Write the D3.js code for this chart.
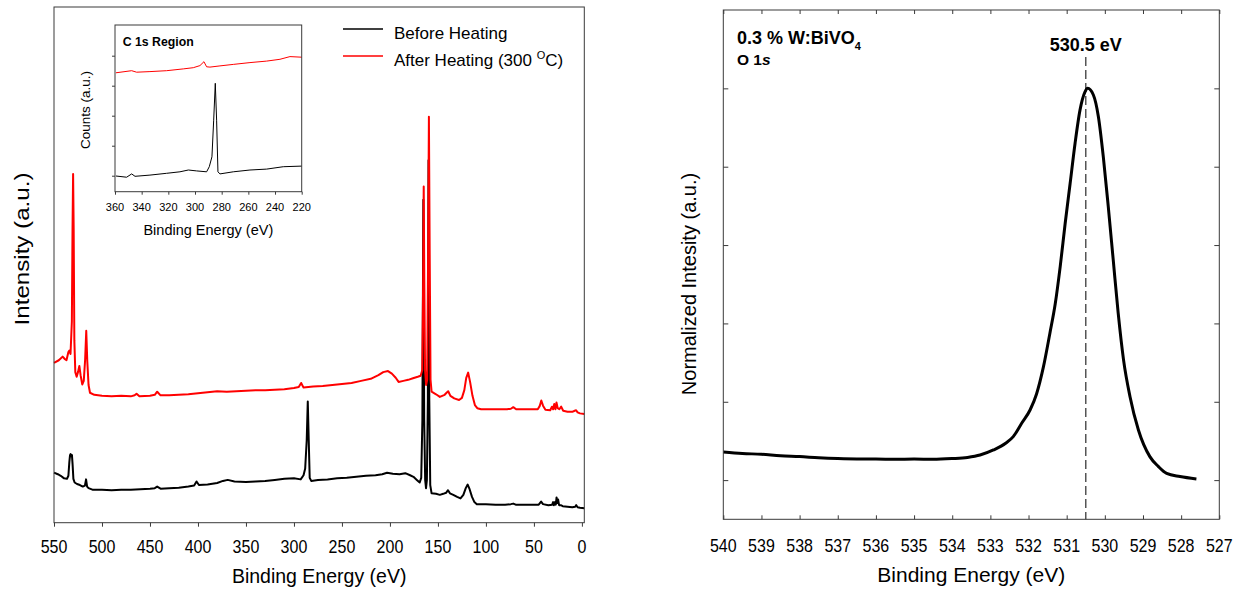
<!DOCTYPE html>
<html>
<head>
<meta charset="utf-8">
<script src="https://cdn.jsdelivr.net/npm/d3@7"></script>
<style>
  body { margin: 0; background: #fff; }
  svg { display: block; }
  text { font-family: "Liberation Sans", Arial, sans-serif; fill: #000; }
</style>
</head>
<body>
<svg id="chart" width="1242" height="591"></svg>
<script>
// ---------- data ----------
// XPS survey, before heating: [binding energy (eV), intensity (a.u.)]
const surveyBefore = [
  [550,9.7],[546,9.4],[543,9.1],[539.5,8.6],[536.5,8.5],[535,9.1],[534,11.8],[533.3,13.1],[532.7,13.3],
  [532,12.9],[531.3,13.1],[530.6,11.2],[529.8,8.5],[528.5,7.8],[526,7.5],[523,7.3],[520,7.0],[517.8,7.2],
  [516.6,8.4],[515.5,7.0],[514,6.7],[510,6.4],[500,6.4],[490,6.3],[480,6.4],[470,6.4],[460,6.5],[450,6.6],
  [445,6.7],[442.5,7.0],[439,6.6],[430,6.7],[420,6.8],[410,7.0],[404,7.2],[401.5,8.0],[399,7.3],[390,7.4],
  [380,7.7],[374,8.1],[369,8.3],[362,8.0],[350,7.9],[340,8.0],[330,8.1],[320,8.3],[310,8.5],[300,8.6],
  [293,8.4],[290,9.2],[288.3,10.5],[286.7,16.0],[285.6,23.5],[284.6,16.0],[283.6,8.7],[282,8.1],[275,8.3],
  [265,8.4],[255,8.6],[245,8.7],[235,8.9],[225,9.1],[215,9.2],[208,9.4],[203,9.7],[197,9.5],[190,9.4],
  [184,9.6],[179,9.2],[175.5,8.9],[172,8.3],[169,7.8],[167.4,8.7],[166.2,19.9],[165.2,62.6],[164.3,19.9],
  [163.3,8.3],[162.4,6.7],[161.5,8.3],[160.5,23.8],[159.8,70.3],[159,23.8],[158,7.3],[156.6,5.7],[152,5.6],
  [148,5.4],[144.5,5.6],[141.5,5.8],[139.5,6.3],[137.5,5.7],[134,5.4],[130,5.0],[126.5,4.7],[123.5,5.4],
  [121,6.7],[119,7.4],[117,6.5],[114.5,5.0],[112,4.0],[109.5,3.6],[100,3.6],[90,3.5],[80,3.5],[74,3.6],
  [71.5,3.7],[69,3.5],[60,3.5],[50,3.5],[45,3.5],[42.5,4.1],[40.5,3.6],[35,3.4],[31,3.5],[30,4.0],
  [29.2,3.4],[28,4.0],[27.2,3.5],[26.4,4.9],[25.6,3.8],[24.8,4.5],[23.8,3.4],[22,3.4],[20,3.2],[15,3.1],
  [10,3.0],[7,3.1],[6,3.4],[4.5,3.0],[2,2.9],[-2.5,2.8]
];

// XPS survey, after heating at 300 °C
const surveyAfter = [
  [550,31.0],[545,31.5],[541,32.2],[538.5,31.7],[537,31.5],[535,33.1],[534,33.4],[532.8,32.7],[531.4,39.0],
  [530.7,56.8],[530.1,67.6],[529.5,56.8],[528.8,35.4],[527.8,29.2],[526.4,28.3],[525,29.2],[523.6,30.4],
  [522.3,28.6],[520.5,26.8],[519,27.5],[517.6,31.5],[516.4,37.2],[515.3,31.2],[514,26.7],[512.5,25.2],
  [508,24.8],[500,24.6],[490,24.5],[480,24.6],[470,24.5],[466,24.7],[464,25.0],[461,24.5],[450,24.6],
  [445,24.8],[442.5,25.4],[439,24.7],[430,24.7],[420,24.8],[410,24.9],[400,25.1],[390,25.3],[380,25.5],
  [370,25.4],[360,25.5],[350,25.6],[340,25.7],[330,25.7],[320,25.8],[310,25.9],[300,26.1],[295,26.3],
  [292.5,27.1],[290,26.2],[285,26.3],[280,26.4],[270,26.5],[260,26.7],[250,26.9],[240,27.1],[230,27.5],
  [220,27.9],[212,28.6],[207,29.2],[202,29.4],[198,28.9],[194,28.1],[191,27.3],[186,27.5],[181,27.7],
  [176,28.0],[171,28.3],[168,28.5],[166.3,29.6],[165.4,47.0],[164.8,65.2],[164.2,47.0],[163.4,29.6],
  [162.3,26.7],[161.2,27.7],[160.2,52.8],[159.4,78.7],[158.6,52.8],[157.7,27.7],[156.6,25.4],[152,24.9],
  [148,24.4],[143,24.8],[141,25.2],[139.3,25.5],[137,24.6],[133,24.1],[128,23.8],[125,24.2],[122.5,25.7],
  [120.5,28.1],[118.5,29.1],[116.5,27.3],[114,24.6],[111.5,22.8],[109,22.2],[105,22.0],[95,22.0],[85,22.0],
  [78,22.0],[74,22.1],[71.5,22.4],[68.5,22.0],[60,22.0],[50,22.0],[46,22.0],[44,22.6],[42.3,23.7],
  [40.5,22.7],[38,21.9],[33,21.8],[31.2,22.5],[30,22.0],[28.8,23.0],[27.6,22.0],[26.5,23.3],[25.2,22.2],
  [23.5,22.0],[21.6,22.5],[19.5,21.7],[15,21.5],[10,21.5],[7.5,21.7],[6,21.8],[4.5,21.4],[2,21.2],[-2.5,21.1]
];

// C 1s region (inset): counts (a.u.)
const c1sBefore = [
  [359.3,-0.01],[351.3,-0.05],[347.5,0.06],[345,-0.02],[333.8,0.02],[321.3,0.08],[311.3,0.13],[305,0.19],
  [298.8,0.16],[291.3,0.13],[289.3,0.30],[287.3,0.63],[286,1.85],[284.8,3.08],[283.8,1.85],[282.8,0.13],
  [281.3,0.06],[271.3,0.13],[258.8,0.19],[246.3,0.22],[233.8,0.30],[220,0.32]
];
const c1sAfter = [
  [359.3,3.43],[347.5,3.50],[343.8,3.45],[333.8,3.47],[321.3,3.50],[308.8,3.56],[301.3,3.60],[296.3,3.67],
  [293.3,3.80],[291.3,3.63],[288.8,3.62],[281.3,3.66],[271.3,3.71],[258.8,3.77],[246.3,3.82],[236.3,3.88],
  [228.8,3.97],[220,3.95]
];

// O 1s high-resolution spectrum, normalized intensity
const o1sSpectrum = [
  [540,0.072],[539.5,0.068],[539,0.066],[538.5,0.062],[538,0.060],[537.5,0.057],[537,0.055],[536.5,0.054],
  [536,0.054],[535.5,0.053],[535,0.054],[534.5,0.053],[534,0.055],[533.6,0.058],[533.27,0.064],[532.92,0.077],
  [532.6,0.094],[532.4,0.111],[532.18,0.145],[531.96,0.179],[531.79,0.22],[531.61,0.289],[531.44,0.375],
  [531.3,0.45],[531.17,0.545],[531.04,0.655],[530.91,0.757],[530.78,0.86],[530.65,0.945],[530.52,0.991],
  [530.45,1.0],[530.3,0.983],[530.17,0.928],[530.04,0.825],[529.91,0.698],[529.78,0.562],[529.65,0.426],
  [529.51,0.307],[529.34,0.213],[529.12,0.128],[528.82,0.06],[528.6,0.035],[528.38,0.017],[528.03,0.009],
  [527.6,0.003]
];
const o1sPeak = 530.5;

const surveyTicks = [550,500,450,400,350,300,250,200,150,100,50,0];
const insetTicks = [360,340,320,300,280,260,240,220];
const insetYTicks = [0,1,2,3,4];
const o1sTicks = [540,539,538,537,536,535,534,533,532,531,530,529,528,527];
const o1sYTicks = [0,0.2,0.4,0.6,0.8,1.0];

const seriesNames = ["Before Heating", "After Heating (300 "];
const seriesColors = ["#000000", "#ff0000"];

// ---------- drawing ----------
const svg = d3.select("#chart");
const FRAME = "#3a3a3a";

function frame(g, x, y) {
  const [x0, x1] = x.range(), [y0, y1] = y.range();
  g.append("rect")
    .attr("x", Math.min(x0, x1)).attr("y", Math.min(y0, y1))
    .attr("width", Math.abs(x1 - x0)).attr("height", Math.abs(y1 - y0))
    .attr("fill", "none").attr("stroke", FRAME).attr("stroke-width", 1);
}
function styleAxis(sel) {
  sel.select(".domain").remove();
  sel.selectAll(".tick line").attr("stroke", FRAME).attr("stroke-width", 1);
}
function tickLabels(g, scale, values, baseline, size, stretch) {
  g.selectAll(null).data(values).enter().append("text")
    .attr("transform", d => `translate(${scale(d)},${baseline}) scale(1,${stretch})`)
    .attr("text-anchor", "middle").attr("font-size", size)
    .text(d => d);
}

// ----- survey panel -----
const sx = d3.scaleLinear().domain([550, -2.5]).range([54, 584.3]);
const sy = d3.scaleLinear().domain([0, 100]).range([522.7, 7]);
const survey = svg.append("g");

survey.append("g").attr("transform", `translate(0,${sy.range()[0]})`)
  .call(d3.axisBottom(sx).tickValues(surveyTicks).tickSize(4).tickFormat(""))
  .call(styleAxis);
tickLabels(survey, sx, surveyTicks, 553, 16, 1.15);

const sLine = d3.line().x(d => sx(d[0])).y(d => sy(d[1]));
[surveyBefore, surveyAfter].forEach((s, i) => {
  survey.append("path").datum(s).attr("d", sLine)
    .attr("fill", "none").attr("stroke", seriesColors[i])
    .attr("stroke-width", 2).attr("stroke-linejoin", "round");
});
frame(survey, sx, sy);

survey.append("text").attr("x", d3.mean(sx.range())).attr("y", 583)
  .attr("text-anchor", "middle").attr("font-size", 19.5).text("Binding Energy (eV)");
survey.append("text").attr("transform", "translate(29,249) rotate(-90) scale(1.15,1)")
  .attr("text-anchor", "middle").attr("font-size", 21).text("Intensity (a.u.)");

// legend
const legend = survey.append("g");
seriesNames.forEach((name, i) => {
  const ly = 29 + i * 27;
  legend.append("line").attr("x1", 343).attr("x2", 383).attr("y1", ly).attr("y2", ly)
    .attr("stroke", seriesColors[i]).attr("stroke-width", 1.5);
  const t = legend.append("text").attr("x", 394).attr("y", ly + 10).attr("font-size", 17).text(name);
  if (i === 1) {
    t.append("tspan").attr("font-size", 11).attr("dy", -7).text("O");
    t.append("tspan").attr("dy", 7).text("C)");
  }
});

// ----- C 1s inset -----
const ix = d3.scaleLinear().domain([360, 220]).range([115, 301.7]);
const iy = d3.scaleLinear().domain([-0.533, 5.023]).range([191.7, 25]);
const inset = svg.append("g");
inset.append("rect").attr("x", 115).attr("y", 25).attr("width", 186.7).attr("height", 166.7).attr("fill", "#fff");
inset.append("g").attr("transform", `translate(0,${iy.range()[0]})`)
  .call(d3.axisBottom(ix).tickValues(insetTicks).tickSize(3).tickFormat(""))
  .call(styleAxis);
inset.append("g").attr("transform", `translate(${ix.range()[0]},0)`)
  .call(d3.axisLeft(iy).tickValues(insetYTicks).tickSize(3).tickFormat(""))
  .call(styleAxis);
tickLabels(inset, ix, insetTicks, 210.5, 11, 1);

const iLine = d3.line().x(d => ix(d[0])).y(d => iy(d[1]));
[c1sBefore, c1sAfter].forEach((s, i) => {
  inset.append("path").datum(s).attr("d", iLine)
    .attr("fill", "none").attr("stroke", seriesColors[i]).attr("stroke-width", 1);
});
frame(inset, ix, iy);

inset.append("text").attr("x", 122.7).attr("y", 46).attr("font-size", 12.3).attr("font-weight", "bold")
  .text("C 1s Region");
inset.append("text").attr("x", d3.mean(ix.range())).attr("y", 235)
  .attr("text-anchor", "middle").attr("font-size", 14.5).text("Binding Energy (eV)");
inset.append("text").attr("transform", "translate(90,110) rotate(-90)")
  .attr("text-anchor", "middle").attr("font-size", 13.5).text("Counts (a.u.)");

// ----- O 1s panel -----
const ox = d3.scaleLinear().domain([540, 527]).range([723.3, 1219.3]);
const oy = d3.scaleLinear().domain([-0.1, 1.2]).range([519.3, 10]);
const o1s = svg.append("g");

o1s.append("g").attr("transform", `translate(0,${oy.range()[0]})`)
  .call(d3.axisBottom(ox).tickValues(o1sTicks).tickSize(-4).tickFormat("")).call(styleAxis);
o1s.append("g").attr("transform", `translate(0,${oy.range()[1]})`)
  .call(d3.axisTop(ox).tickValues(o1sTicks).tickSize(-4).tickFormat("")).call(styleAxis);
o1s.append("g").attr("transform", `translate(${ox.range()[0]},0)`)
  .call(d3.axisLeft(oy).tickValues(o1sYTicks).tickSize(-5).tickFormat("")).call(styleAxis);
o1s.append("g").attr("transform", `translate(${ox.range()[1]},0)`)
  .call(d3.axisRight(oy).tickValues(o1sYTicks).tickSize(-5).tickFormat("")).call(styleAxis);
tickLabels(o1s, ox, o1sTicks, 552, 16, 1.15);

o1s.append("line").attr("x1", ox(o1sPeak)).attr("x2", ox(o1sPeak))
  .attr("y1", 57).attr("y2", oy.range()[0])
  .attr("stroke", "#555").attr("stroke-width", 1.5).attr("stroke-dasharray", "9,4");

const oLine = d3.line().x(d => ox(d[0])).y(d => oy(d[1])).curve(d3.curveMonotoneX);
o1s.append("path").datum(o1sSpectrum).attr("d", oLine)
  .attr("fill", "none").attr("stroke", "#000").attr("stroke-width", 3).attr("stroke-linejoin", "round");
frame(o1s, ox, oy);

o1s.append("text").attr("x", ox(o1sPeak)).attr("y", 51).attr("text-anchor", "middle")
  .attr("font-size", 18).attr("font-weight", "bold").text(`${o1sPeak.toFixed(1)} eV`);

const title = o1s.append("text").attr("x", 737).attr("y", 44.3).attr("font-size", 18).attr("font-weight", "bold");
title.append("tspan").text("0.3 % W:BiVO");
title.append("tspan").attr("font-size", 11).attr("dy", 5.5).text("4");
const core = o1s.append("text").attr("x", 737).attr("y", 65).attr("font-size", 15.5).attr("font-weight", "bold");
core.append("tspan").text("O 1");
core.append("tspan").attr("font-style", "italic").text("s");

o1s.append("text").attr("x", d3.mean(ox.range())).attr("y", 582)
  .attr("text-anchor", "middle").attr("font-size", 21).text("Binding Energy (eV)");
o1s.append("text").attr("transform", "translate(696,284) rotate(-90)")
  .attr("text-anchor", "middle").attr("font-size", 20).text("Normalized Intesity (a.u.)");
</script>
</body>
</html>
